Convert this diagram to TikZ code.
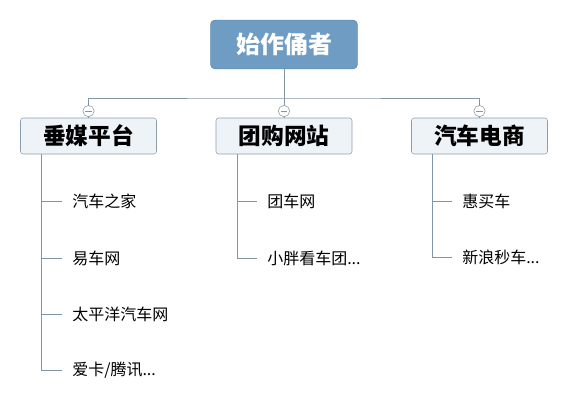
\documentclass[tikz,border=0pt]{standalone}
\usepackage{fontspec}
\newfontfamily\cjk{Noto Sans CJK SC}
\usepackage{xcolor}
\usepackage{tikz}
\usetikzlibrary{positioning, calc}

\definecolor{rootblue}{HTML}{6E9CC2}
\definecolor{rootedge}{HTML}{5F8BB0}
\definecolor{catfill}{HTML}{EEF3F8}
\definecolor{catedge}{HTML}{8E9DAE}
\definecolor{linkgray}{HTML}{8296AA}

\begin{document}
\begin{tikzpicture}[
  x=0.75pt, y=-0.75pt,
  root/.style={rectangle, rounded corners=3pt, fill=rootblue, draw=rootedge,
    text=white, font=\cjk\bfseries\fontsize{18}{20}\selectfont,
    minimum width=110pt, minimum height=36.5pt, inner sep=0pt},
  cat/.style={rectangle, rounded corners=2pt, fill=catfill, draw=catedge,
    font=\cjk\bfseries\fontsize{17}{19}\selectfont,
    minimum width=102pt, minimum height=27pt, inner sep=0pt},
  item/.style={anchor=west, font=\cjk\fontsize{12}{14}\selectfont,
    inner xsep=7.5pt, inner ysep=2pt},
  fold/.style={circle, draw=linkgray, fill=white, minimum size=8.5pt,
    inner sep=0pt, path picture={
      \draw[linkgray, line width=0.6pt]
        ([xshift=1.8pt]path picture bounding box.west) --
        ([xshift=-1.8pt]path picture bounding box.east);}},
  conn/.style={draw=linkgray, line width=0.6pt}
]
\useasboundingbox[fill=white] (0,0) rectangle (572,404);

%% root
\node[root] (top) at (284,44.5) {始作俑者};

%% categories
\node[cat] (media) at ( 88.5,136) {垂媒平台};
\node[cat] (group) at (284,136)   {团购网站};
\node[cat] (shop)  at (479.5,136) {汽车电商};

%% fold markers
\node[fold] (f1) at (media.north) [yshift=5pt] {};
\node[fold] (f2) at (group.north) [yshift=5pt] {};
\node[fold] (f3) at (shop.north)  [yshift=5pt] {};

%% items
\node[item] (m1) at (62,201) {汽车之家};
\node[item] (m2) at (62,258) {易车网};
\node[item] (m3) at (62,314) {太平洋汽车网};
\node[item] (m4) at (62,370) {爱卡/腾讯...};

\node[item] (g1) at (257,201) {团车网};
\node[item] (g2) at (257,258) {小胖看车团...};

\node[item] (s1) at (452,201) {惠买车};
\node[item] (s2) at (452,257) {新浪秒车...};

%% trunks
\coordinate (bus) at (284,98);
\coordinate (tm) at ([xshift=16pt]media.south west);
\coordinate (tg) at ([xshift=16pt]group.south west);
\coordinate (ts) at ([xshift=16pt]shop.south west);

%% root -> categories
\draw[conn] (top) -- (bus);
\draw[conn] (f1) |- (bus) -| (f3);
\draw[conn] (f2) -- (bus);
\draw[conn] (f1) -- (media);
\draw[conn] (f2) -- (group);
\draw[conn] (f3) -- (shop);

%% categories -> items
\draw[conn] (tm) |- (m4.west);
\draw[conn] (tm |- m1.west) -- (m1.west);
\draw[conn] (tm |- m2.west) -- (m2.west);
\draw[conn] (tm |- m3.west) -- (m3.west);

\draw[conn] (tg) |- (g2.west);
\draw[conn] (tg |- g1.west) -- (g1.west);

\draw[conn] (ts) |- (s2.west);
\draw[conn] (ts |- s1.west) -- (s1.west);

\end{tikzpicture}
\end{document}
